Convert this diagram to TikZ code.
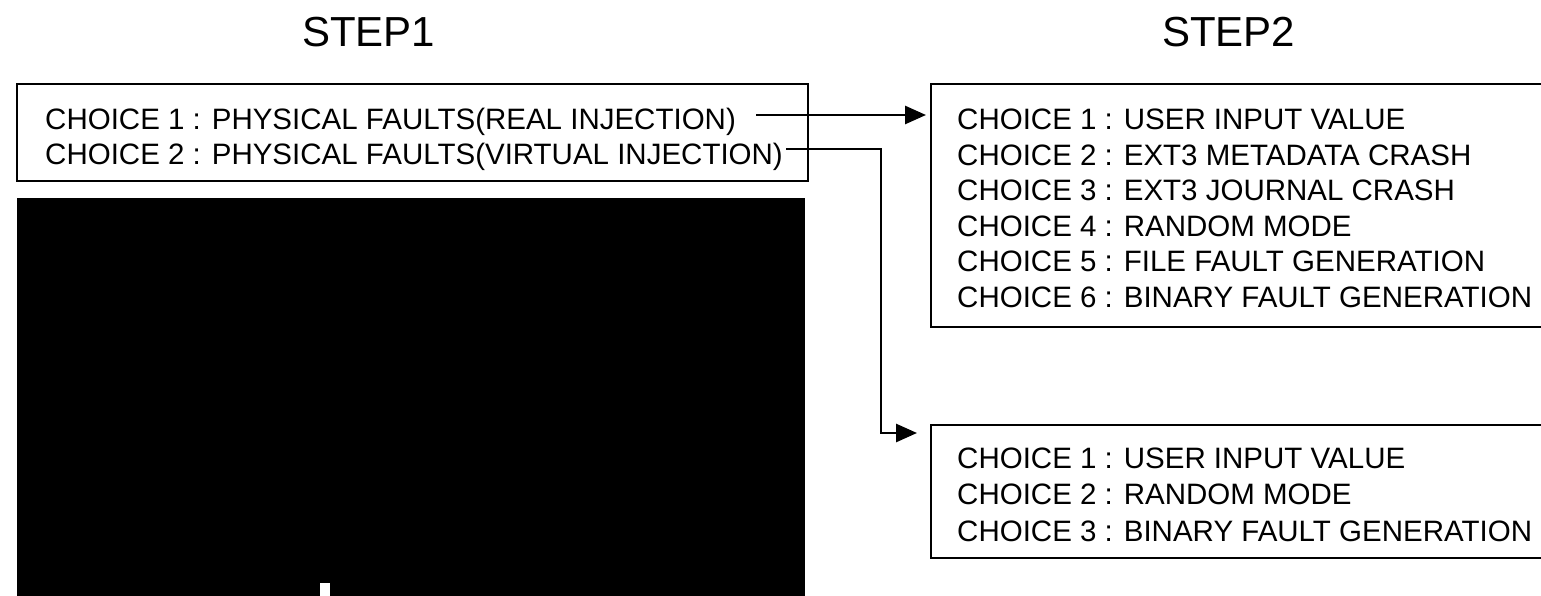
\documentclass[tikz,border=0pt]{standalone}
\usepackage{fontspec}
\setmainfont{Liberation Sans}
\usepackage{tikz}
\usetikzlibrary{
  arrows.meta,
  positioning,
  calc
}
\definecolor{InkBlack}{RGB}{0, 0, 0}
\newcommand{\choicefont}{\fontsize{29.5}{35}\selectfont}
\newcommand{\stepfont}{\fontsize{42}{50}\selectfont}
\tikzset{
    framebox/.style={draw=InkBlack, line width=2.8pt, rectangle, inner sep=0pt, outer sep=0pt, anchor=north west},
    choiceline/.style={anchor=base west, inner sep=0pt, font=\choicefont, text=InkBlack},
    steplabel/.style={anchor=base west, inner sep=0pt, font=\stepfont, text=InkBlack},
    link/.style={draw=InkBlack, line width=2.8pt, -{Triangle[length=21pt, width=18pt]}},
}

\begin{document}
\begin{tikzpicture}[x=1pt, y=-1pt]
    \useasboundingbox (0,0) rectangle (1541,596);
    % step titles
    \node[steplabel] (step1) at (302,47) {STEP1};
    \node[steplabel] (step2) at (1162,47) {STEP2};

    % frames
    \node[framebox, minimum width=791pt, minimum height=97pt] (s1box) at (17,84) {};
    \node[framebox, minimum width=640pt, minimum height=243pt] (s2box) at (931,84) {};
    \node[framebox, minimum width=640pt, minimum height=133pt] (s3box) at (931,425) {};

    % step 1 choices
    \node[choiceline] (s1r1) at (45,130) {CHOICE 1 : PHYSICAL FAULTS(REAL INJECTION)};
    \node[choiceline] (s1r2) at (45,165) {CHOICE 2 : PHYSICAL FAULTS(VIRTUAL INJECTION)};

    % black screen area
    \fill[InkBlack] (17,198) rectangle (805,600);
    \fill[white] (320,583) rectangle (330,600);

    % step 2 choices
    \foreach \txt [count=\i] in {CHOICE 1 : USER INPUT VALUE, CHOICE 2 : EXT3 METADATA CRASH,
        CHOICE 3 : EXT3 JOURNAL CRASH, CHOICE 4 : RANDOM MODE,
        CHOICE 5 : FILE FAULT GENERATION, CHOICE 6 : BINARY FAULT GENERATION}
        \node[choiceline] (s2r\i) at (957,{94.6+35.4*\i}) {\txt};
    \foreach \txt [count=\i] in {CHOICE 1 : USER INPUT VALUE, CHOICE 2 : RANDOM MODE,
        CHOICE 3 : BINARY FAULT GENERATION}
        \node[choiceline] (s3r\i) at (957,{431.5+36.5*\i}) {\txt};

    % connectors
    \coordinate (out1) at ([shift={(20pt,15pt)}]s1r1.base east);
    \coordinate (out2) at ([shift={(3pt,16pt)}]s1r2.base east);
    \draw[link, shorten >=5pt] (out1) -- (out1 -| s2box.west);
    \draw[link, shorten >=14pt] (out2) -- ++(95,0) |- ([yshift=-8pt]s3box.north west);
\end{tikzpicture}
\end{document}
